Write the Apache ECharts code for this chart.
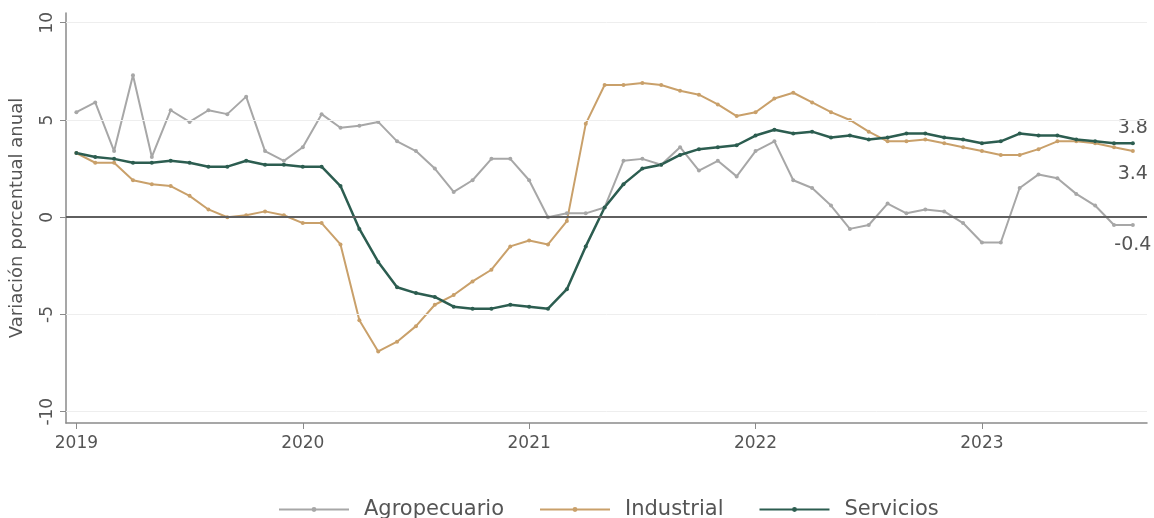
<!doctype html>
<html>
<head>
  <meta charset="utf-8">
  <title>index</title>
  <script src="https://cdn.jsdelivr.net/npm/echarts@6/dist/echarts.min.js"></script>
  <style>
    html, body { margin: 0; padding: 0; background: #fff; }
    #main { width: 1154px; height: 518px; }
  </style>
</head>
<body>
  <div id="main"></div>
  <script>
    // meses ene-2019 .. sep-2023
    var years = ['2019', '2020', '2021', '2022', '2023'];
    var yearTicks = [0, 12, 24, 36, 48];
    var yTicks = [-10, -5, 0, 5, 10];

    var agro = [5.4, 5.9, 3.4, 7.3, 3.1, 5.5, 4.9, 5.5, 5.3, 6.2, 3.4, 2.9,
      3.6, 5.3, 4.6, 4.7, 4.9, 3.9, 3.4, 2.5, 1.3, 1.9, 3.0, 3.0,
      1.9, 0.0, 0.2, 0.2, 0.5, 2.9, 3.0, 2.7, 3.6, 2.4, 2.9, 2.1,
      3.4, 3.9, 1.9, 1.5, 0.6, -0.6, -0.4, 0.7, 0.2, 0.4, 0.3, -0.3,
      -1.3, -1.3, 1.5, 2.2, 2.0, 1.2, 0.6, -0.4, -0.4];
    var industrial = [3.3, 2.8, 2.8, 1.9, 1.7, 1.6, 1.1, 0.4, 0.0, 0.1, 0.3, 0.1,
      -0.3, -0.3, -1.4, -5.3, -6.9, -6.4, -5.6, -4.5, -4.0, -3.3, -2.7, -1.5,
      -1.2, -1.4, -0.2, 4.8, 6.8, 6.8, 6.9, 6.8, 6.5, 6.3, 5.8, 5.2,
      5.4, 6.1, 6.4, 5.9, 5.4, 5.0, 4.4, 3.9, 3.9, 4.0, 3.8, 3.6,
      3.4, 3.2, 3.2, 3.5, 3.9, 3.9, 3.8, 3.6, 3.4];
    var servicios = [3.3, 3.1, 3.0, 2.8, 2.8, 2.9, 2.8, 2.6, 2.6, 2.9, 2.7, 2.7,
      2.6, 2.6, 1.6, -0.6, -2.3, -3.6, -3.9, -4.1, -4.6, -4.7, -4.7, -4.5,
      -4.6, -4.7, -3.7, -1.5, 0.5, 1.7, 2.5, 2.7, 3.2, 3.5, 3.6, 3.7,
      4.2, 4.5, 4.3, 4.4, 4.1, 4.2, 4.0, 4.1, 4.3, 4.3, 4.1, 4.0,
      3.8, 3.9, 4.3, 4.2, 4.2, 4.0, 3.9, 3.8, 3.8];

    var font = 'DejaVu Sans';
    var txt = '#555';

    // serie -> pares [mes, valor], con etiqueta en el ultimo punto
    function toData(arr, pos, dist) {
      return arr.map(function (v, i) {
        var d = { value: [i, v] };
        if (i == arr.length - 1) {
          d.label = {
            show: true, position: pos, distance: dist,
            formatter: function (p) { return p.value[1].toFixed(1); },
            fontFamily: font, fontSize: 19, color: txt
          };
        }
        return d;
      });
    }

    function serie(name, arr, color, width, pos, dist) {
      return {
        name: name,
        type: 'line',
        data: toData(arr, pos, dist),
        symbol: 'circle',
        symbolSize: 4,
        lineStyle: { color: color, width: width },
        itemStyle: { color: color },
        emphasis: { disabled: true },
        z: 3
      };
    }

    var chart = echarts.init(document.getElementById('main'));
    var s1 = serie('Agropecuario', agro, '#a7a7a7', 2, 'bottom', 9);
    s1.markLine = {
      silent: true,
      symbol: 'none',
      label: { show: false },
      data: [
        { yAxis: -10, lineStyle: { color: '#eeeeee', width: 1, type: 'solid' } },
        { yAxis: -5, lineStyle: { color: '#eeeeee', width: 1, type: 'solid' } },
        { yAxis: 5, lineStyle: { color: '#eeeeee', width: 1, type: 'solid' } },
        { yAxis: 10, lineStyle: { color: '#eeeeee', width: 1, type: 'solid' } },
        { yAxis: 0, lineStyle: { color: '#5f5f5f', width: 2, type: 'solid' } }
      ]
    };
    var s2 = serie('Industrial', industrial, '#c9a06a', 2, 'bottom', 11);
    var s3 = serie('Servicios', servicios, '#2c5d50', 2.5, 'top', 4);

    chart.setOption({
      animation: false,
      textStyle: { fontFamily: font },
      grid: { left: 66, right: 7, top: 13, bottom: 95 },
      xAxis: {
        type: 'value',
        min: -0.55,
        max: 56.75,
        axisLine: { onZero: false, lineStyle: { color: '#8a8a8a', width: 1.5 } },
        axisTick: { customValues: yearTicks, length: 6, lineStyle: { color: '#8a8a8a' } },
        axisLabel: {
          customValues: yearTicks,
          margin: 12,
          fontSize: 17,
          color: txt,
          formatter: function (v) { return years[Math.round(v / 12)]; }
        },
        splitLine: { show: false }
      },
      yAxis: {
        type: 'value',
        min: -10.58,
        max: 10.5,
        name: 'Variación porcentual anual',
        nameLocation: 'middle',
        nameGap: 40,
        nameTextStyle: { fontSize: 18, color: txt },
        axisLine: { show: true, onZero: false, lineStyle: { color: '#8a8a8a', width: 1.5 } },
        axisTick: { show: true, customValues: yTicks, length: 6, lineStyle: { color: '#8a8a8a' } },
        axisLabel: {
          customValues: yTicks,
          rotate: 90,
          margin: 10,
          fontSize: 17,
          color: txt
        },
        splitLine: { show: false }
      },
      legend: {
        left: 273,
        top: 494,
        itemWidth: 70,
        itemHeight: 6,
        itemGap: 35,
        textStyle: { fontSize: 21, color: txt, padding: [0, 0, 0, 10] },
        data: ['Agropecuario', 'Industrial', 'Servicios']
      },
      series: [s1, s2, s3]
    });
  </script>
</body>
</html>
